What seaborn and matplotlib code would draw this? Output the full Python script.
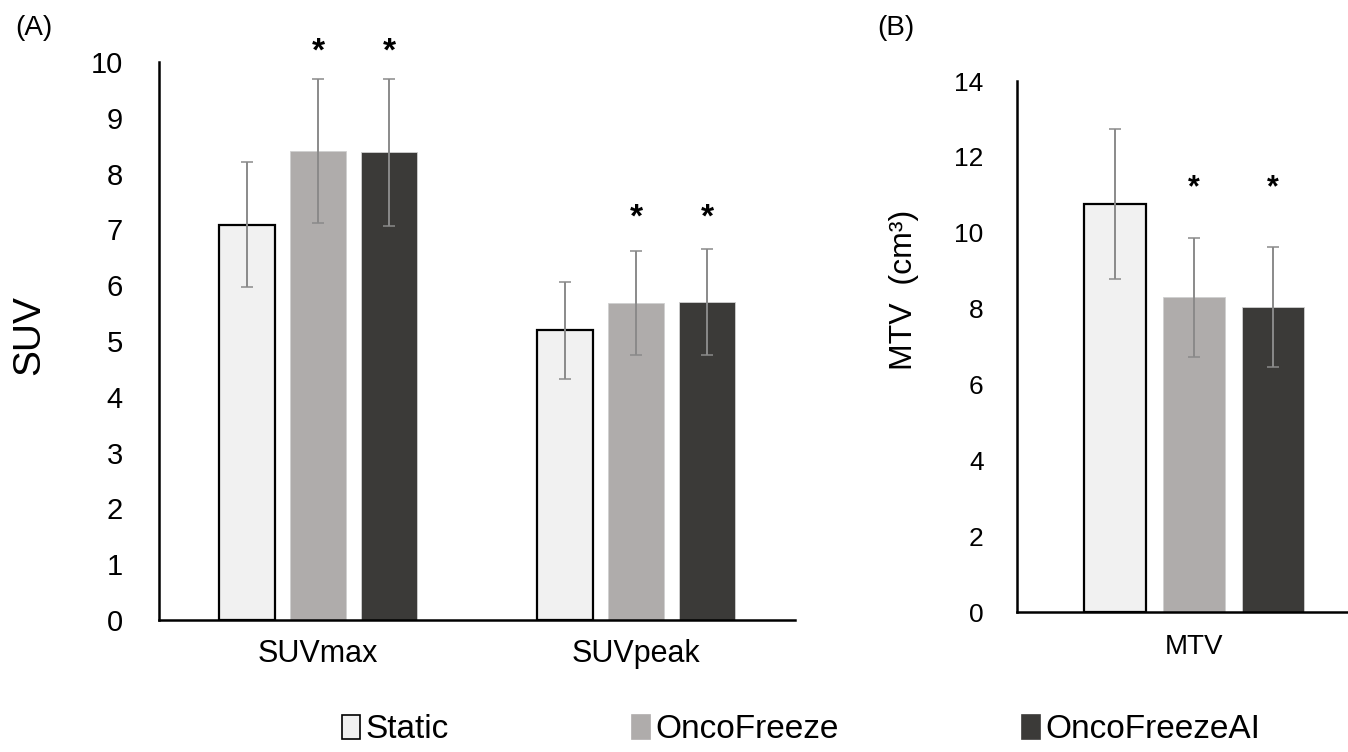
import numpy as np
import pandas as pd
import matplotlib
matplotlib.use("Agg")
import matplotlib.pyplot as plt
from matplotlib.patches import Patch
import seaborn as sns

# ── data ─────────────────────────────────────────────
METHODS = ["Static", "OncoFreeze", "OncoFreezeAI"]
COLORS = ["#f1f1f1", "#afacab", "#3b3a38"]

SUV_METRICS = ["SUVmax", "SUVpeak"]
suv_mean = {"Static": [7.08, 5.19], "OncoFreeze": [8.40, 5.68], "OncoFreezeAI": [8.38, 5.70]}
suv_sd = {"Static": [1.12, 0.87], "OncoFreeze": [1.29, 0.93], "OncoFreezeAI": [1.32, 0.95]}
suv_sig = {"Static": [False, False], "OncoFreeze": [True, True], "OncoFreezeAI": [True, True]}
suv_star_y = [10.18, 7.20]

MTV_METRICS = ["MTV"]
mtv_mean = {"Static": [10.76], "OncoFreeze": [8.30], "OncoFreezeAI": [8.05]}
mtv_sd = {"Static": [1.98], "OncoFreeze": [1.57], "OncoFreezeAI": [1.58]}
mtv_sig = {"Static": [False], "OncoFreeze": [True], "OncoFreezeAI": [True]}
mtv_star_y = [11.18]

sns.set_style("white")
plt.rcParams["font.family"] = ["Liberation Sans", "DejaVu Sans"]
for k in ["text.color", "axes.labelcolor", "xtick.color", "ytick.color"]:
    plt.rcParams[k] = "black"

W, H = 1348, 752
fig = plt.figure(figsize=(W / 100, H / 100), dpi=100)


def px_axes(l, r, t, b):
    return fig.add_axes([l / W, 1 - b / H, (r - l) / W, (b - t) / H])


def panel(ax, metrics, mean, sd, sig, star_y, ymax, tick_fs, star_fs, pad, xfs, xpad):
    df = pd.DataFrame([(m, meth, mean[meth][i])
                       for meth in METHODS for i, m in enumerate(metrics)],
                      columns=["metric", "method", "value"])
    sns.barplot(data=df, x="metric", y="value", hue="method", order=metrics,
                hue_order=METHODS, palette=COLORS, errorbar=None,
                width=0.67, gap=0.21, saturation=1, legend=False, ax=ax)
    for k, meth in enumerate(METHODS):
        bars = ax.containers[k]
        for i, p in enumerate(bars.patches):
            if meth == "Static":
                p.set_edgecolor("black"); p.set_linewidth(1.6)
            else:
                p.set_edgecolor("#d0d0d0"); p.set_linewidth(0.6)
            xc = p.get_x() + p.get_width() / 2
            ax.errorbar(xc, mean[meth][i], yerr=sd[meth][i], fmt="none",
                        ecolor="#8a8a8a", elinewidth=1.4, capsize=4, capthick=1.1)
            if sig[meth][i]:
                ax.text(xc, star_y[i], "*", ha="center", va="center",
                        fontsize=star_fs, fontweight="bold", clip_on=False)
    ax.set_ylim(0, ymax)
    ax.set_xlim(-0.5, len(metrics) - 0.5)
    ax.set_xlabel(""); ax.set_ylabel("")
    sns.despine(ax=ax)
    for s in ["left", "bottom"]:
        ax.spines[s].set_linewidth(1.8)
        ax.spines[s].set_color("black")
    ax.tick_params(axis="y", length=0, pad=pad, labelsize=tick_fs)
    ax.tick_params(axis="x", length=0, pad=xpad, labelsize=xfs)


# (A) SUV
axA = px_axes(159, 795, 62, 620)
panel(axA, SUV_METRICS, suv_mean, suv_sd, suv_sig, suv_star_y, 10, 21, 24, 26, 22, 14)
axA.set_yticks(range(0, 11))

# (B) MTV
axB = px_axes(1017, 1371, 81, 612)
panel(axB, MTV_METRICS, mtv_mean, mtv_sd, mtv_sig, mtv_star_y, 14, 19, 22, 24, 20, 16)
axB.set_yticks(range(0, 15, 2))

fig.text(29 / W, 1 - 335 / H, "SUV", rotation=90, ha="center", va="center", fontsize=28)
fig.text(904 / W, 1 - 290 / H, "MTV  (cm³)", rotation=90, ha="center", va="center", fontsize=23)
fig.text(34 / W, 1 - 28 / H, "(A)", ha="center", va="center", fontsize=20)
fig.text(896 / W, 1 - 28 / H, "(B)", ha="center", va="center", fontsize=20)

handles = [Patch(facecolor=c, edgecolor="black" if m == "Static" else c, linewidth=1.2)
           for m, c in zip(METHODS, COLORS)]
fig.legend(handles, METHODS, loc="center", bbox_to_anchor=(801 / W, 1 - 730 / H),
           ncol=3, frameon=False, fontsize=24, handlelength=0.55, handleheight=0.75,
           handletextpad=0.15, columnspacing=5.5)

fig.savefig("out.png", dpi=100)
